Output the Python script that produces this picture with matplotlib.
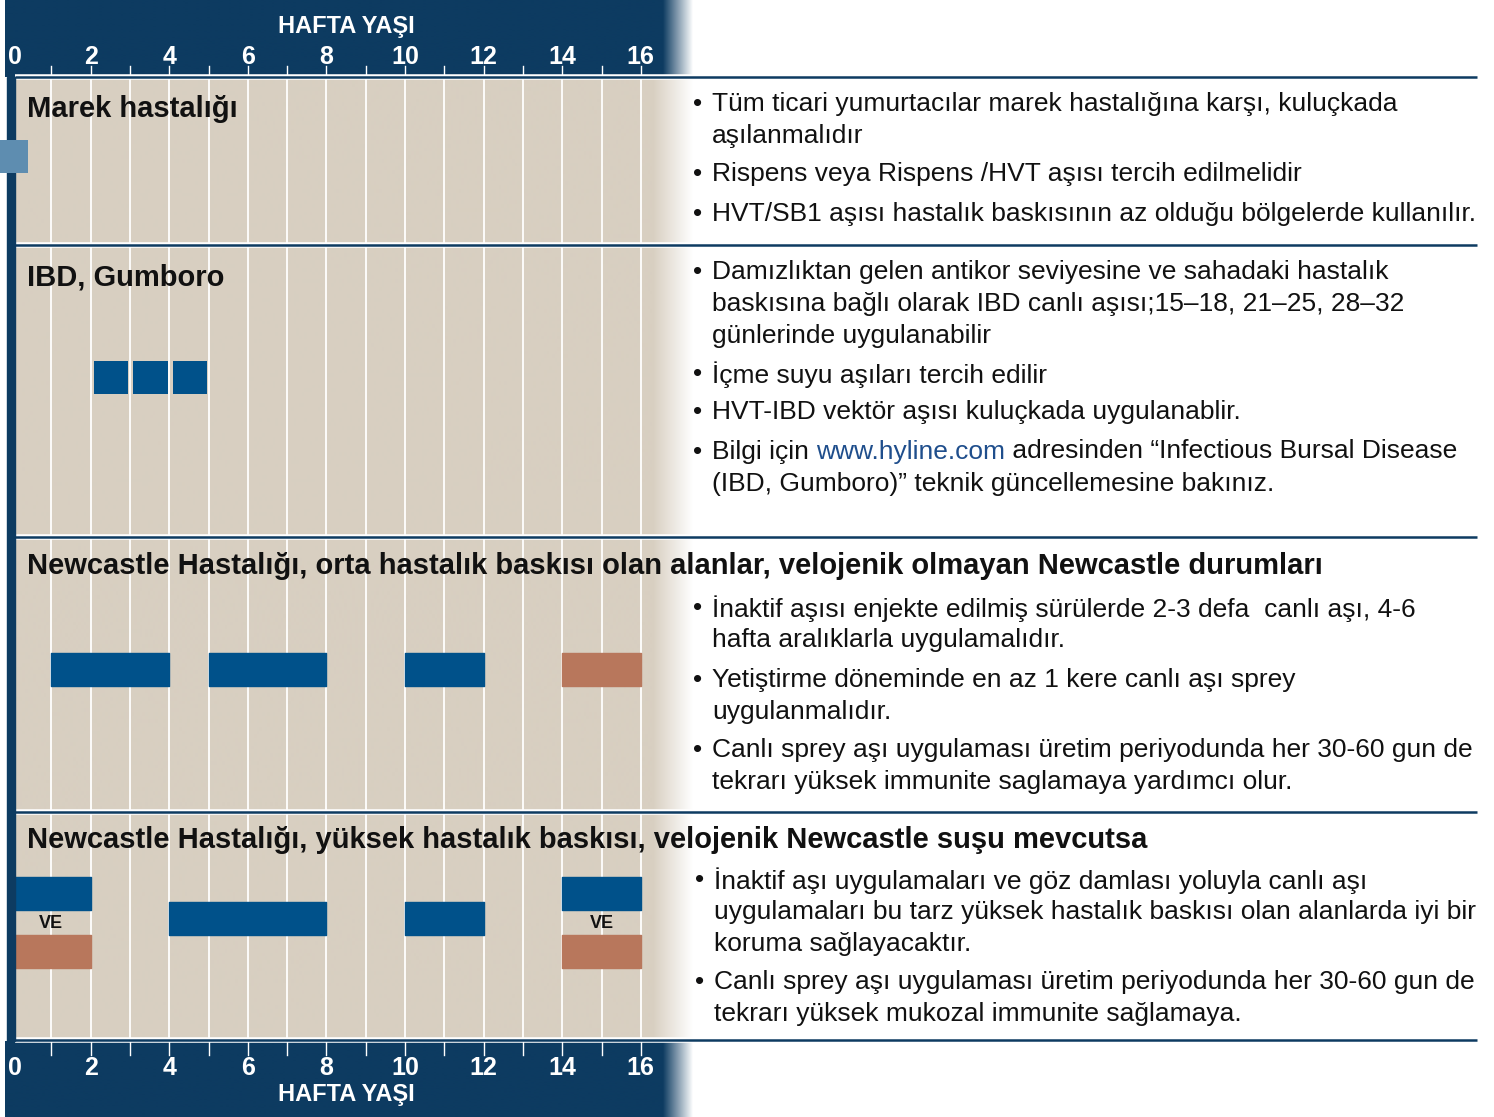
#!/usr/bin/env python3
"""Vaccination schedule chart (Hy-Line style) rendered with matplotlib."""

import matplotlib

matplotlib.use("Agg")
import matplotlib.pyplot as plt
import numpy as np
from matplotlib.colors import to_rgb
from matplotlib.transforms import Affine2D

W, H = 1494, 1117

NAVY = "#0d3b61"
BEIGE = "#d8cfc1"
BLUE = "#00518a"
SALMON = "#b8775c"
MAREK_BLUE = "#5e8db0"
TEXT = "#111111"
LINK = "#1f4e8c"
SANS = ["Liberation Sans", "DejaVu Sans"]

# ---- data -------------------------------------------------------------
week_labels = [0, 2, 4, 6, 8, 10, 12, 14, 16]
grid_weeks = list(range(1, 17))

marek_start, marek_len = -0.3, 0.7
ibd_weeks = [2, 3, 4]                       # one cell per week
nd_mod_live = [(1, 3), (5, 3), (10, 2)]     # (start week, length)
nd_mod_inact = [(14, 2)]
nd_high_live_top = [(0, 2), (14, 2)]
nd_high_live_mid = [(4, 4), (10, 2)]
nd_high_inact = [(0, 2), (14, 2)]
ve_weeks = [1, 15]

row_titles = [
    "Marek hastalığı",
    "IBD, Gumboro",
    "Newcastle Hastalığı, orta hastalık baskısı olan alanlar, velojenik olmayan Newcastle durumları",
    "Newcastle Hastalığı, yüksek hastalık baskısı, velojenik Newcastle suşu mevcutsa",
]
row_title_y = [108, 276, 565, 839]
row_lines_y = [77, 245, 537, 812, 1040]

bullets = [
    (102, ["Tüm ticari yumurtacılar marek hastalığına karşı, kuluçkada", "aşılanmalıdır"]),
    (172, ["Rispens veya Rispens /HVT aşısı tercih edilmelidir"]),
    (211, ["HVT/SB1 aşısı hastalık baskısının az olduğu bölgelerde kullanılır."]),
    (269, ["Damızlıktan gelen antikor seviyesine ve sahadaki hastalık",
           "baskısına bağlı olarak IBD canlı aşısı;15–18, 21–25, 28–32",
           "günlerinde uygulanabilir"]),
    (372, ["İçme suyu aşıları tercih edilir"]),
    (410, ["HVT-IBD vektör aşısı kuluçkada uygulanablir."]),
    (449, [None, "(IBD, Gumboro)” teknik güncellemesine bakınız."]),
    (606, ["İnaktif aşısı enjekte edilmiş sürülerde 2-3 defa  canlı aşı, 4-6",
           "hafta aralıklarla uygulamalıdır."]),
    (677, ["Yetiştirme döneminde en az 1 kere canlı aşı sprey",
           "uygulanmalıdır."]),
    (747, ["Canlı sprey aşı uygulaması üretim periyodunda her 30-60 gun de",
           "tekrarı yüksek immunite saglamaya yardımcı olur."]),
    (878, ["İnaktif aşı uygulamaları ve göz damlası yoluyla canlı aşı",
           "uygulamaları bu tarz yüksek hastalık baskısı olan alanlarda iyi bir",
           "koruma sağlayacaktır."]),
    (980, ["Canlı sprey aşı uygulaması üretim periyodunda her 30-60 gun de",
           "tekrarı yüksek mukozal immunite sağlamaya."]),
]
link_parts = ["Bilgi için ", "www.hyline.com", " adresinden “Infectious Bursal Disease"]

# ---- layout -----------------------------------------------------------
PX_W0, PX_PER_WEEK = 12.0, 39.3


def px2w(x):
    return (x - PX_W0) / PX_PER_WEEK


fig = plt.figure(figsize=(W / 100, H / 100), dpi=100)
ax = fig.add_axes([0, 0, 1, 1])
ax.set_axis_off()
# pixel transform (origin top-left) for layout-only items
PX = Affine2D().scale(1 / W, -1 / H).translate(0, 1) + fig.transFigure


def hgrad(x0, x1, y0, y1, color, fade0, fade1, z):
    """Solid colour band fading to white between fade0 and fade1 (px)."""
    xs = np.arange(x0, x1) + 0.5
    a = np.clip((fade1 - xs) / (fade1 - fade0), 0, 1)
    rgb = np.array(to_rgb(color))
    img = np.ones((1, len(xs), 3)) * (1 - a)[None, :, None] + rgb * a[None, :, None]
    ax.imshow(img, extent=(px2w(x0), px2w(x1), y1, y0), aspect="auto",
              interpolation="bilinear", zorder=z)


# beige body and navy header/footer bands
hgrad(15, 695, 78, 1041, BEIGE, 652, 692, 0)
hgrad(5, 695, 0, 77, NAVY, 662, 692, 1)
hgrad(5, 695, 1041, 1117, NAVY, 662, 692, 1)
ax.add_patch(plt.Rectangle((px2w(7), 77), px2w(15) - px2w(7), 964,
                           color=NAVY, zorder=6))

# week gridlines and ticks
for w in grid_weeks:
    ax.plot([w, w], [78, 1040], color="white", lw=1.3, zorder=2)
    ax.plot([w, w], [66, 76], color="white", lw=1.0, zorder=3)
    ax.plot([w, w], [1042, 1055], color="white", lw=1.0, zorder=3)

for w in week_labels:
    for y in (57, 1068):
        ax.text(w + (0.08 if w == 0 else 0), y, str(w), color="white",
                fontsize=18, fontweight="bold", family=SANS,
                ha="center", va="center", zorder=4)
for y in (26, 1095):
    ax.text(8.5, y, "HAFTA YAŞI", color="white", fontsize=17, fontweight="bold",
            family=SANS, ha="center", va="center", zorder=4)

# row separators
for y in row_lines_y:
    ax.plot([px2w(15), px2w(1477)], [y, y], color="white", lw=4, zorder=3,
            solid_capstyle="butt")
    ax.plot([px2w(15), px2w(1477)], [y, y], color=NAVY, lw=1.8, zorder=3,
            solid_capstyle="butt")

# row titles
for t, y in zip(row_titles, row_title_y):
    ax.text(px2w(27), y + 1, t, color=TEXT, fontsize=21, fontweight="bold",
            family=SANS, va="center", ha="left", zorder=5)

# ---- bars ---------------------------------------------------------------
BH = 33
ax.barh([156.5], [marek_len], left=[marek_start], height=BH, color=MAREK_BLUE,
        zorder=7, clip_on=False)
ax.barh([377.5] * len(ibd_weeks), [0.87] * len(ibd_weeks),
        left=[w + 0.09 for w in ibd_weeks], height=BH, color=BLUE, zorder=4)
ax.broken_barh(nd_mod_live, (653, BH), color=BLUE, zorder=4)
ax.broken_barh(nd_mod_inact, (653, BH), color=SALMON, zorder=4)
ax.broken_barh(nd_high_live_top, (877, BH), color=BLUE, zorder=4)
ax.broken_barh(nd_high_live_mid, (902, BH), color=BLUE, zorder=4)
ax.broken_barh(nd_high_inact, (935, BH), color=SALMON, zorder=4)
for w in ve_weeks:
    ax.text(w, 924, "VE", color=TEXT, fontsize=13, fontweight="bold",
            family=SANS, ha="center", va="center", zorder=5)

# ---- bullet text ----------------------------------------------------------
FS = 19
LINE = 32
VA = "center_baseline"
for y0, lines in bullets:
    bx, tx = (693, 712) if y0 < 870 else (695, 714)
    ax.text(bx, y0, "•", transform=PX, fontsize=FS, color=TEXT,
            family=SANS, va=VA, ha="left")
    for i, line in enumerate(lines):
        if line is None:
            continue
        ax.text(tx, y0 + i * LINE, line, transform=PX, fontsize=FS, color=TEXT,
                family=SANS, va=VA, ha="left")

# line with coloured link, built piece by piece
fig.canvas.draw()
renderer = fig.canvas.get_renderer()
x = 712
for part, col in zip(link_parts, [TEXT, LINK, TEXT]):
    t = ax.text(x, 449, part, transform=PX, fontsize=FS, color=col,
                family=SANS, va=VA, ha="left")
    bb = t.get_window_extent(renderer)
    x += bb.width * W / fig.bbox.width

ax.set_xlim(px2w(0), px2w(W))
ax.set_ylim(H, 0)
fig.savefig("out.png", dpi=100, facecolor="white")
